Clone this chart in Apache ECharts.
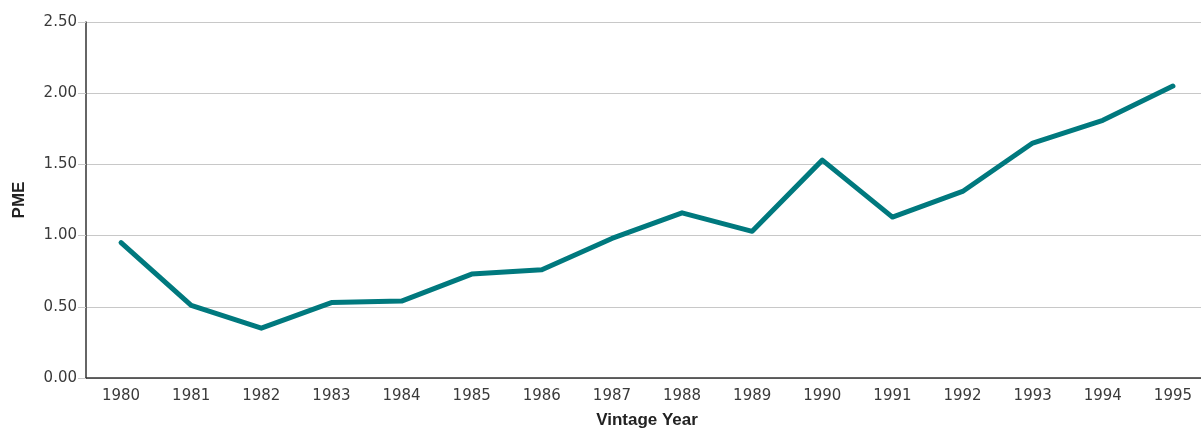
<!DOCTYPE html>
<html><head><meta charset="utf-8">
<script src="https://cdn.jsdelivr.net/npm/echarts@6/dist/echarts.min.js"></script>
<style>html,body{margin:0;padding:0;background:#fff}#c{width:1201px;height:428px}</style>
</head><body><div id="c"></div>
<script>
var years = ['1980','1981','1982','1983','1984','1985','1986','1987','1988','1989','1990','1991','1992','1993','1994','1995'];
var pme = [0.95,0.51,0.35,0.53,0.54,0.73,0.76,0.98,1.16,1.03,1.53,1.13,1.31,1.65,1.81,2.05];
var yTicks = {min:0, max:2.5, interval:0.5};
var chart = echarts.init(document.getElementById('c'), null, {renderer:'canvas'});
chart.setOption({
  animation:false,
  grid:{left:86, top:22, width:1122, height:356, containLabel:false, outerBoundsMode:'none'},
  xAxis:{type:'category', data:years, boundaryGap:true,
    name:'Vintage Year', nameLocation:'middle', nameGap:34,
    nameTextStyle:{fontFamily:'Liberation Sans Narrow, Liberation Sans, sans-serif', fontWeight:'bold', fontSize:17, color:'#222'},
    axisLine:{lineStyle:{color:'#333', width:1.5}},
    axisTick:{length:5, lineStyle:{color:'#333'}},
    axisLabel:{fontFamily:'DejaVu Sans, sans-serif', fontSize:15, color:'#3a3a3a', margin:11}
  },
  yAxis:{type:'value', min:yTicks.min, max:yTicks.max, interval:yTicks.interval,
    name:'PME', nameLocation:'middle', nameGap:58, nameRotate:90,
    nameTextStyle:{fontFamily:'Liberation Sans Narrow, Liberation Sans, sans-serif', fontWeight:'bold', fontSize:17, color:'#222'},
    axisLine:{show:true, lineStyle:{color:'#333', width:1.5}},
    axisTick:{show:true, length:8, lineStyle:{color:'#c8c8c8'}},
    splitLine:{lineStyle:{color:'#c8c8c8'}},
    axisLabel:{fontFamily:'DejaVu Sans, sans-serif', fontSize:15, color:'#3a3a3a', margin:9,
      formatter:function(v){return v.toFixed(2);}}
  },
  series:[{type:'line', data:pme, symbol:'none',
    lineStyle:{color:'#00797e', width:5, cap:'round', join:'round'}}]
});
</script></body></html>
